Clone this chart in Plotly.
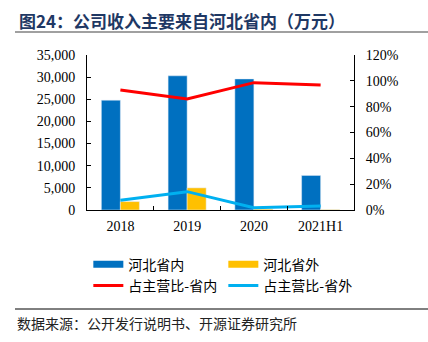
import plotly.graph_objects as go

categories = ["2018", "2019", "2020", "2021H1"]
hebei_in = [24800, 30300, 29600, 7800]
hebei_out = [1900, 5000, 200, 100]
share_in = [0.929, 0.859, 0.986, 0.968]
share_out = [0.075, 0.142, 0.018, 0.031]

C_BLUE = "#0070C0"
C_ORANGE = "#FFC000"
C_RED = "#FF0000"
C_CYAN = "#00B0F0"

fig = go.Figure()
fig.add_trace(go.Bar(x=categories, y=hebei_in, name="河北省内", marker_color=C_BLUE,
                     showlegend=False, legendgroup="a"))
fig.add_trace(go.Bar(x=categories, y=hebei_out, name="河北省外", marker_color=C_ORANGE,
                     showlegend=False, legendgroup="b"))
# legend swatches for bars (wide rectangles like the reference)
fig.add_trace(go.Scatter(x=[None], y=[None], mode="lines", name="河北省内",
                         line=dict(color=C_BLUE, width=7), legendgroup="a"))
fig.add_trace(go.Scatter(x=[None], y=[None], mode="lines", name="河北省外",
                         line=dict(color=C_ORANGE, width=7), legendgroup="b"))
fig.add_trace(go.Scatter(x=categories, y=share_in, name="占主营比-省内", mode="lines",
                         line=dict(color=C_RED, width=3), yaxis="y2"))
fig.add_trace(go.Scatter(x=categories, y=share_out, name="占主营比-省外", mode="lines",
                         line=dict(color=C_CYAN, width=3), yaxis="y2"))

tickfont = dict(family="Liberation Serif, Times New Roman, serif", size=14, color="#000")
cjk = "Noto Sans CJK SC"

fig.update_layout(
    width=428, height=342,
    margin=dict(l=87, r=74, t=55, b=132, autoexpand=False),
    paper_bgcolor="white", plot_bgcolor="white",
    barmode="group", bargap=0.43, bargroupgap=0,
    showlegend=True,
    legend=dict(orientation="h", x=0.005, xanchor="left", y=-0.25, yanchor="top",
                entrywidth=90, entrywidthmode="pixels",
                font=dict(family=cjk, size=14, color="#000"),
                bgcolor="rgba(0,0,0,0)", traceorder="normal"),
    xaxis=dict(type="category", showline=True, linecolor="#000", linewidth=1,
               ticks="inside", tickson="boundaries", ticklen=4, tickcolor="#000",
               tickfont=tickfont, showgrid=False, zeroline=False, ticklabelstandoff=3),
    yaxis=dict(range=[0, 35000], dtick=5000, tickformat=",", showline=True,
               linecolor="#000", linewidth=1, ticks="inside", ticklen=4, tickcolor="#000",
               tickfont=tickfont, showgrid=False, zeroline=False, ticklabelstandoff=8),
    yaxis2=dict(range=[0, 1.2], dtick=0.2, tickformat=".0%", overlaying="y", side="right",
                showline=True, linecolor="#000", linewidth=1, ticks="inside", ticklen=4,
                tickcolor="#000", tickfont=tickfont, showgrid=False, zeroline=False,
                ticklabelstandoff=8),
    font=dict(family=cjk),
)

fig.add_annotation(text="<b>图24：公司收入主要来自河北省内（万元）</b>", xref="paper", yref="paper",
                   x=-87/267 + 17/267, y=1 + (55 - 20) / 155, xanchor="left", yanchor="middle",
                   showarrow=False, font=dict(family=cjk, size=17, color="#1F3864"))
fig.add_annotation(text="数据来源：公开发行说明书、开源证券研究所", xref="paper", yref="paper",
                   x=-87/267 + 15/267, y=(210 - 323) / 155, xanchor="left", yanchor="middle",
                   showarrow=False, font=dict(family=cjk, size=14, color="#222"))

fig.add_shape(type="line", xref="paper", yref="paper",
              x0=-87/267 + 15/267, x1=(428 - 87) / 267, y0=1 + (55 - 32) / 155, y1=1 + (55 - 32) / 155,
              line=dict(color="#A0A0A0", width=2))
fig.add_shape(type="line", xref="paper", yref="paper",
              x0=-87/267 + 15/267, x1=(428 - 87) / 267, y0=(210 - 309) / 155, y1=(210 - 309) / 155,
              line=dict(color="#000", width=1))

fig.write_html("out.html")
